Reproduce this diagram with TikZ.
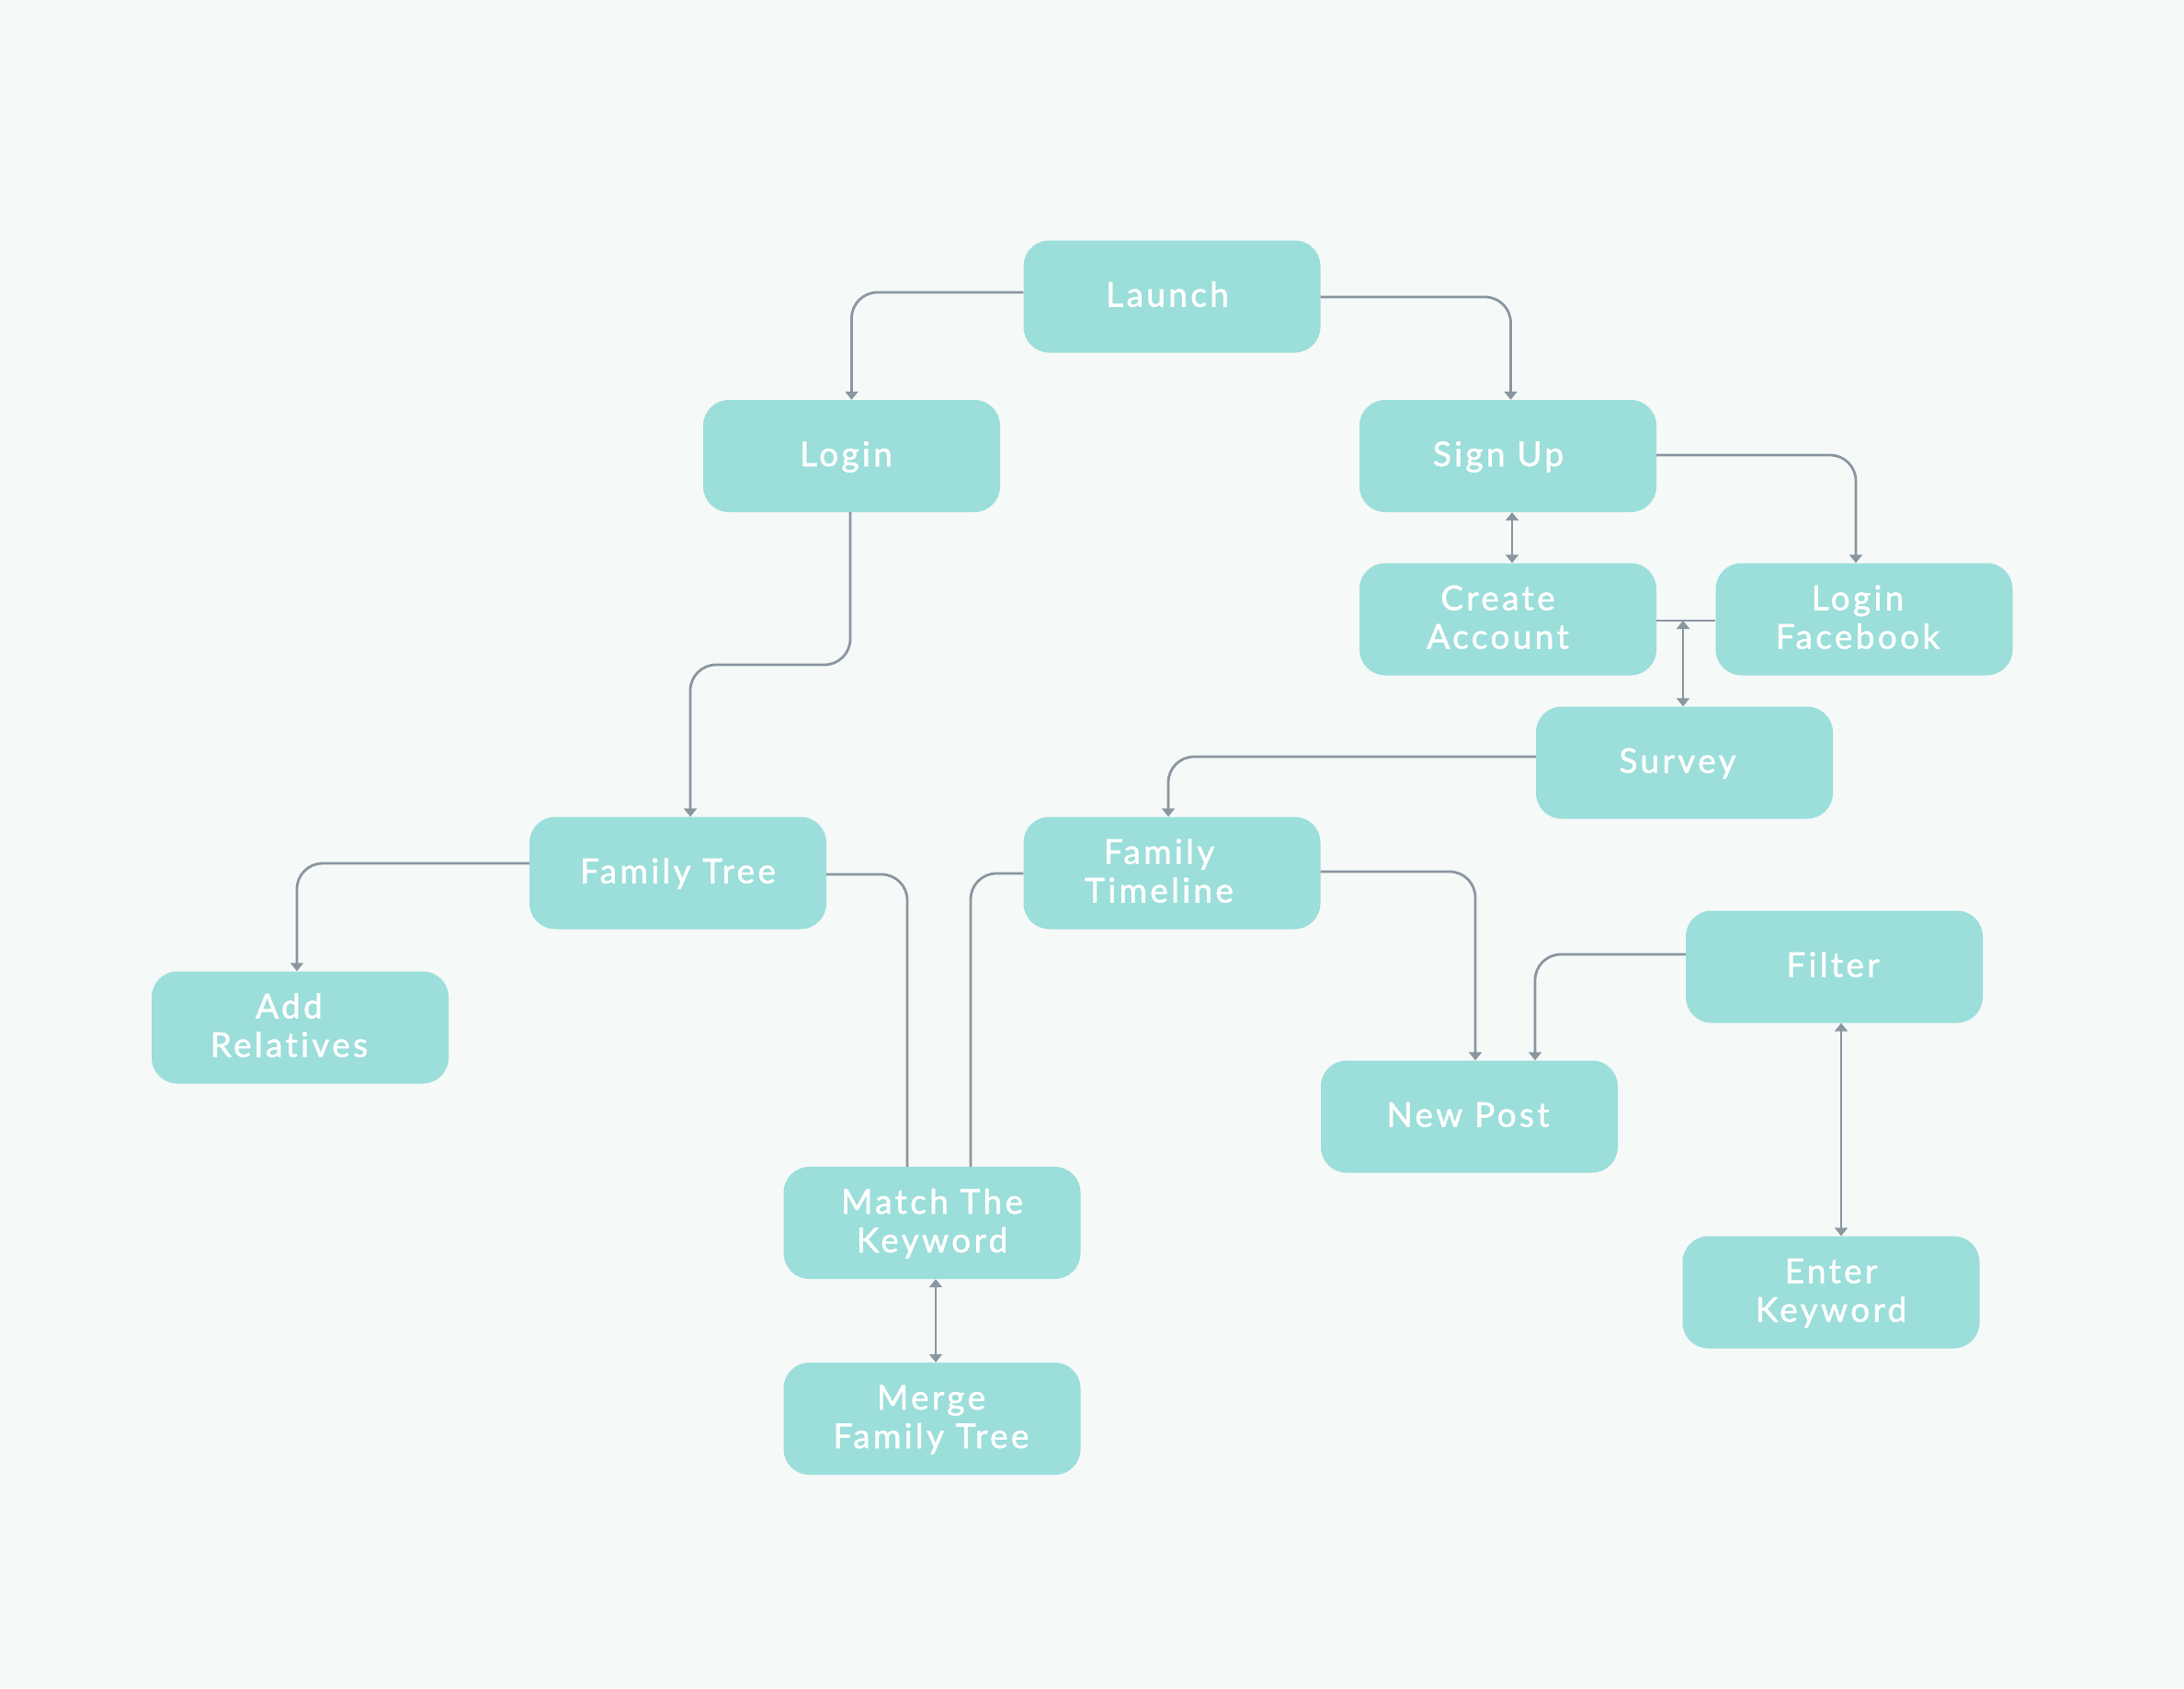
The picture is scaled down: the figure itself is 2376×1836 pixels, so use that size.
\documentclass[tikz,border=0pt]{standalone}
\usepackage{fontspec}
\setmainfont{Lato}[LetterSpace=9,FakeBold=1.4,RawFeature=-liga]
\usetikzlibrary{arrows.meta}
\definecolor{bgc}{HTML}{F5F9F8}
\definecolor{boxc}{HTML}{9BDEDA}
\definecolor{linec}{HTML}{8A96A0}
\newcommand{\bstrut}{\rule[-10pt]{0pt}{42pt}}
\newcommand{\boxline}[2]{\bstrut #2\kern#1pt}
\begin{document}
\begin{tikzpicture}[x=1pt,y=-1pt,
  box/.style={rectangle, rounded corners=28pt, fill=boxc, text=white,
    minimum width=323pt, minimum height=122pt, inner sep=0pt, align=center,
    font=\fontsize{37}{42}\selectfont},
  conn/.style={draw=linec, line width=2.8pt, rounded corners=28pt},
  arr/.style={conn, -{Triangle[width=14pt,length=9pt]}},
  darr/.style={conn, {Triangle[width=14pt,length=9pt]}-{Triangle[width=14pt,length=9pt]}}]
\fill[bgc] (0,0) rectangle (2376,1836);
\useasboundingbox (0,0) rectangle (2376,1836);

\node[box] (launch)  at (1275,322.5)  {\boxline{10}{Launch}};
\node[box] (login)   at (926.5,496)   {\boxline{12}{Login}};
\node[box] (signup)  at (1640.5,496)  {\boxline{21}{Sign Up}};
\node[box] (create)  at (1640.5,673.5){\boxline{22}{Create}\\\boxline{22}{Account}};
\node[box] (loginfb) at (2028,673.5)  {\boxline{14}{Login}\\\boxline{14}{Facebook}};
\node[box] (survey)  at (1832.5,829.5){\boxline{15}{Survey}};
\node[box] (ftree)   at (737.5,949.5) {\boxline{0}{Family Tree}};
\node[box] (ftime)   at (1275,949.5)  {\boxline{28}{Family}\\\boxline{28}{Timeline}};
\node[box] (addrel)  at (326.5,1117.5){\boxline{24}{Add}\\\boxline{24}{Relatives}};
\node[box] (filter)  at (1995.5,1051.5){\boxline{3}{Filter}};
\node[box] (newpost) at (1598.5,1214.5){\boxline{3}{New Post}};
\node[box] (match)   at (1014,1330)   {\boxline{0}{Match The}\\\boxline{0}{Keyword}};
\node[box] (merge)   at (1014,1543)   {\boxline{2}{Merge}\\\boxline{2}{Family Tree}};
\node[box] (enter)   at (1992,1405.5) {\boxline{0}{Enter}\\\boxline{0}{Keyword}};

\coordinate (m1) at (751,723);
\coordinate (j) at (1831,675);

\draw[arr] ([yshift=4.5pt]launch.west) -| (login.north);
\draw[arr] ([yshift=-0.5pt]launch.east) -| ([xshift=3pt]signup.north);
\draw[darr] ([xshift=4.5pt]signup.south) -- ([xshift=4.5pt]create.north);
\draw[arr] ([yshift=1pt]signup.east) -| ([xshift=-9pt]loginfb.north);
\draw[conn] ([yshift=-1.5pt]create.east) -- ([yshift=-1.5pt]loginfb.west);
\draw[darr] (j) -- (j |- survey.north);
\draw[arr] ([yshift=6.5pt]survey.west) -| ([xshift=-4pt]ftime.north);
\draw[arr] ([xshift=-1.5pt]login.south) |- (m1) -- ([xshift=13.5pt]ftree.north);
\draw[arr] ([yshift=10.5pt]ftree.west) -| ([xshift=-3.5pt]addrel.north);
\draw[conn] ([yshift=-1.5pt]ftree.east) -| ([xshift=-27pt]match.north);
\draw[conn] ([yshift=-0.5pt]ftime.west) -| ([xshift=42pt]match.north);
\draw[arr] ([yshift=1.5pt]ftime.east) -| ([xshift=6.5pt]newpost.north);
\draw[arr] ([yshift=13.5pt]filter.west) -| ([xshift=71.5pt]newpost.north);
\draw[darr] ([xshift=7.5pt]filter.south) -- ([xshift=11pt]enter.north);
\draw[darr] ([xshift=4pt]match.south) -- ([xshift=4pt]merge.north);
\end{tikzpicture}
\end{document}
